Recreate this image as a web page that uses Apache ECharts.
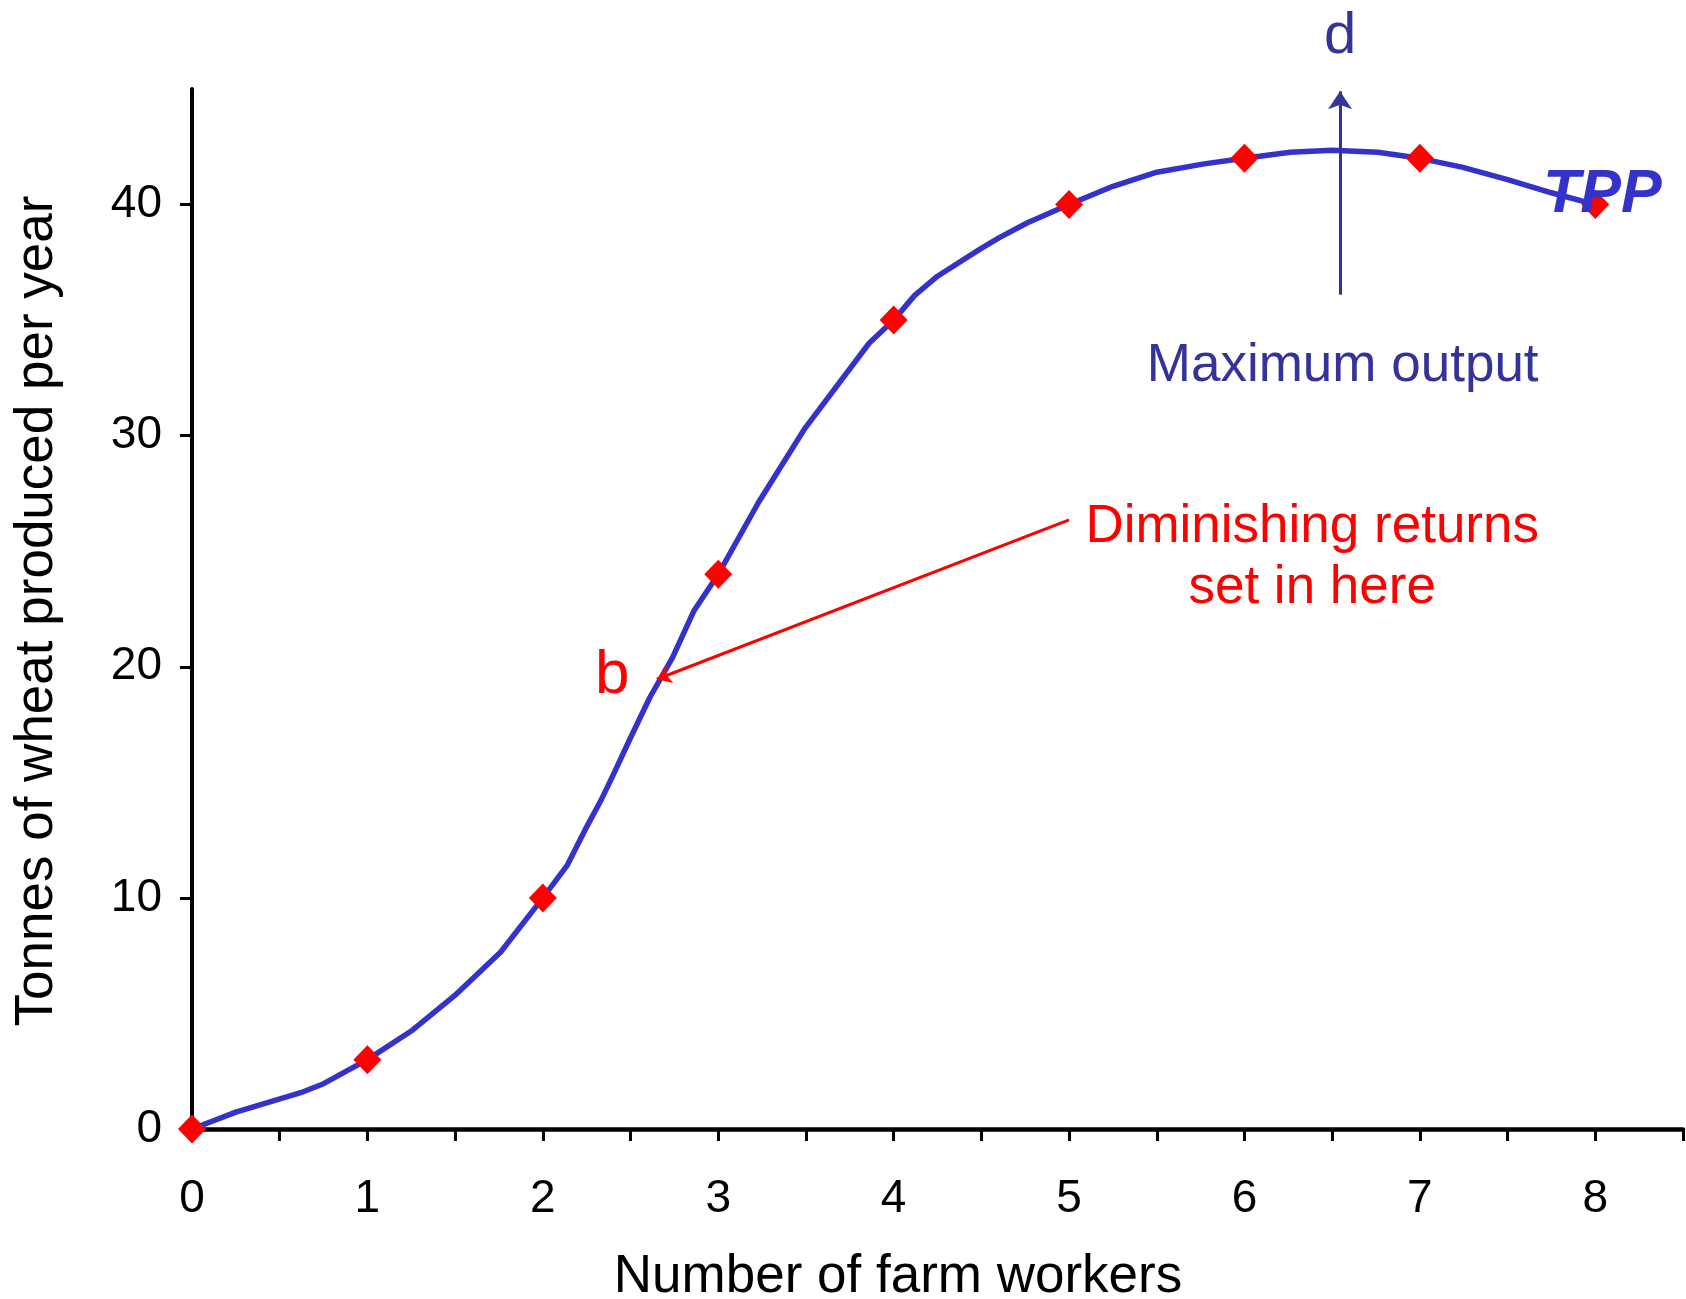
<!DOCTYPE html>
<html>
<head>
<meta charset="utf-8">
<script src="https://cdn.jsdelivr.net/npm/echarts@6/dist/echarts.min.js"></script>
<style>
html,body{margin:0;padding:0;background:#fff;}
#chart{width:1686px;height:1299px;}
</style>
</head>
<body>
<div id="chart"></div>
<script>
// Data: observed points (red diamonds)
const workers = [0, 1, 2, 3, 4, 5, 6, 7, 8];
const tonnes = [0, 3, 10, 24, 35, 40, 42, 42, 40];
// TPP curve (vertices of the drawn curve)
const curveX = [0, 0.25, 0.62, 0.75, 1, 1.25, 1.5, 1.76, 2, 2.14, 2.24, 2.33, 2.4, 2.5, 2.61, 2.74, 2.86, 3,
                3.23, 3.49, 3.86, 4, 4.12, 4.25, 4.49, 4.6, 4.76, 5, 5.25, 5.5, 5.77, 6, 6.26, 6.5, 6.76, 7,
                7.24, 7.5, 7.75, 8];
const curveY = [0, 0.73, 1.57, 1.96, 3, 4.24, 5.79, 7.66, 10, 11.42, 12.93, 14.2, 15.3, 16.93, 18.67, 20.41, 22.4, 24,
                27.12, 30.27, 34.0, 35, 36.07, 36.9, 38.06, 38.56, 39.2, 40, 40.79, 41.4, 41.76, 42, 42.26, 42.35, 42.26, 42,
                41.62, 41.08, 40.51, 40];
const yTickValues = [0, 10, 20, 30, 40];
const xAxisTitle = 'Number of farm workers';
const yAxisTitle = 'Tonnes of wheat produced per year';

const FONT = "'Liberation Sans', Arial, sans-serif";
const BLUE = '#3333CC';
const DARKBLUE = '#333399';
const RED = '#FF0000';

const chart = echarts.init(document.getElementById('chart'), null, {renderer: 'canvas'});

const points = workers.map((w, i) => [w, tonnes[i]]);
const curve = curveX.map((x, i) => [x, curveY[i]]);

const option = {
  animation: false,
  backgroundColor: '#ffffff',
  grid: {left: 192, right: 2, top: 89, bottom: 170, containLabel: false},
  xAxis: {
    type: 'value', min: 0, max: 8.5, interval: 0.5,
    splitLine: {show: false},
    axisLine: {show: true, onZero: false, lineStyle: {color: '#000', width: 4.5}},
    axisTick: {show: true, length: 12, lineStyle: {color: '#000', width: 3}},
    axisLabel: {
      margin: 47, fontSize: 46, color: '#000', fontFamily: FONT,
      formatter: v => (Math.abs(v - Math.round(v)) < 1e-9 && v <= 8) ? String(Math.round(v)) : ''
    }
  },
  yAxis: {
    type: 'value', min: 0, max: 45, interval: 10,
    splitLine: {show: false},
    axisLine: {show: true, onZero: false, lineStyle: {color: '#000', width: 4}},
    axisTick: {show: true, length: 12, customValues: yTickValues, lineStyle: {color: '#000', width: 3}},
    axisLabel: {
      margin: 30, fontSize: 46, color: '#000', fontFamily: FONT,
      customValues: yTickValues,
      formatter: v => (v > 40 ? '' : String(v))
    }
  },
  series: [
    {
      type: 'line', data: curve, smooth: false, z: 3,
      lineStyle: {color: BLUE, width: 5.5, join: 'round'},
      symbol: 'none'
    },
    {
      type: 'scatter', data: points, z: 4,
      symbol: 'diamond', symbolSize: [28, 29],
      itemStyle: {color: RED, opacity: 1}
    },
    {
      type: 'line', data: [], z: 2,
      markLine: {
        silent: true, animation: false,
        symbol: ['none', 'arrow'], symbolSize: 18,
        label: {show: false},
        lineStyle: {color: DARKBLUE, width: 3, type: 'solid'},
        data: [[{coord: [6.545, 36.1]}, {coord: [6.545, 44.9]}]]
      }
    },
    {
      type: 'line', data: [], z: 2,
      markLine: {
        silent: true, animation: false,
        symbol: ['none', 'arrow'], symbolSize: 14,
        label: {show: false},
        lineStyle: {color: RED, width: 3, type: 'solid'},
        data: [[{coord: [5.0, 26.36]}, {coord: [2.65, 19.46]}]]
      }
    }
  ]
};

chart.setOption(option);

function px(x, y) { return chart.convertToPixel({gridIndex: 0}, [x, y]); }
function txt(pos, text, size, color, extra) {
  return {
    type: 'text', x: pos[0], y: pos[1], silent: true, z: 10,
    style: Object.assign({text: text, fontSize: size, fill: color, fontFamily: FONT,
      align: 'center', verticalAlign: 'middle'}, extra || {})
  };
}

const graphics = [
  txt(px(6.545, 47.25), 'd', 58, DARKBLUE),
  txt(px(6.56, 33.0), 'Maximum output', 53, DARKBLUE),
  txt(px(8.04, 40.4), 'TPP', 61, BLUE, {fontWeight: 'bold', fontStyle: 'italic'}),
  txt(px(6.386, 26.05), 'Diminishing returns', 53, RED),
  txt(px(6.386, 23.38), 'set in here', 53, RED),
  txt(px(2.396, 19.6), 'b', 62, RED),
  txt([898, 1277], xAxisTitle, 53, '#000'),
  Object.assign(txt([37, 611], yAxisTitle, 53, '#000'), {rotation: Math.PI / 2})
];

chart.setOption({graphic: graphics});
</script>
</body>
</html>
